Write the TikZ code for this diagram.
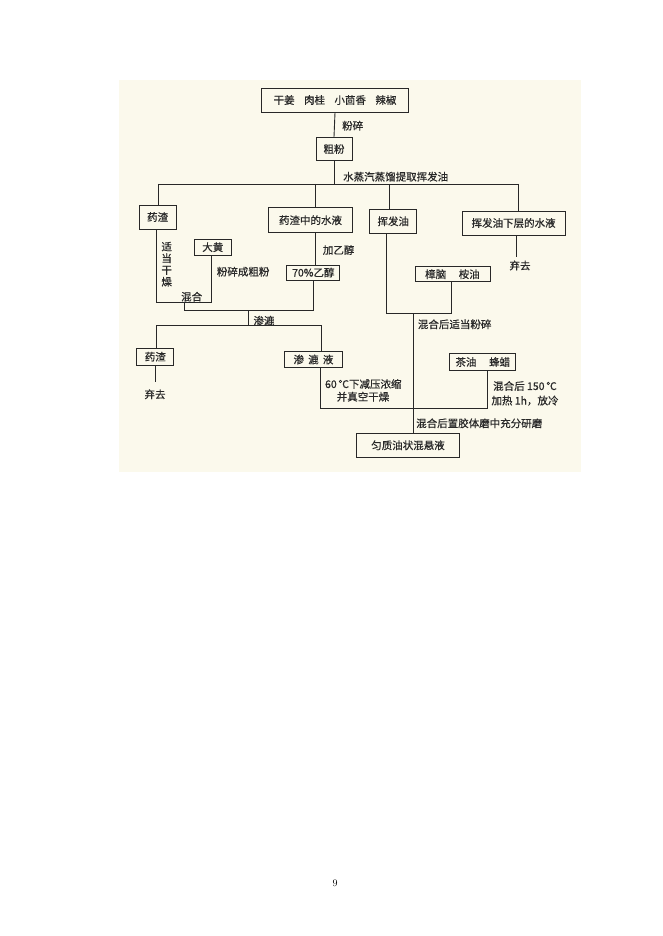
\documentclass[tikz,border=0pt]{standalone}
\usepackage{fontspec}
\newfontfamily\cjk[FakeBold=0.5]{Noto Sans CJK SC}
\definecolor{scanbg}{RGB}{251,249,236}
\definecolor{ink}{RGB}{40,40,40}
\begin{document}
\begin{tikzpicture}[x=1pt,y=-1pt,
  box/.style={draw=ink,line width=0.9pt,inner sep=0pt,minimum width=#1,minimum height=24pt,font=\cjk\fontsize{10.5}{12}\selectfont,text=ink},
  box/.default=40pt,
  lbl/.style={inner sep=0pt,font=\cjk\fontsize{10.5}{12}\selectfont,text=ink},
  ln/.style={draw=ink,line width=0.9pt}]
\useasboundingbox (0,0) rectangle (662,936);
\fill[scanbg] (119,80) rectangle (581,472);
% boxes
\node[box=147pt] (top) at (335,100) {干姜\hspace{0.9em}肉桂\hspace{0.9em}小茴香\hspace{0.9em}辣椒};
\node[box=36pt,minimum height=23.5pt] (cufen) at (334,149) {粗粉};
\node[box=37pt] (yz1) at (157.6,217) {药渣};
\node[box=84pt,minimum height=25pt] (shuiye) at (310.5,220.2) {药渣中的水液};
\node[box=47pt] (hfy) at (393.3,221.3) {挥发油};
\node[box=103pt] (xc) at (513.6,223) {挥发油下层的水液};
\node[box=37.7pt,minimum height=16pt] (dh) at (212.8,247.2) {大黄};
\node[box=53pt,minimum height=15pt] (yc) at (313.3,272.5) {70\%乙醇};
\node[box=75pt,minimum height=15pt] (zn) at (452.5,274.2) {樟脑\hspace{1.2em}桉油};
\node[box=37pt,minimum height=17pt] (yz2) at (155.3,356.7) {药渣};
\node[box=58pt,minimum height=16pt] (sl) at (313.5,359.5) {渗\hspace{0.4em}漉\hspace{0.4em}液};
\node[box=66pt,minimum height=17pt] (cy) at (482.8,362) {茶油\hspace{1.2em}蜂蜡};
\node[box=103pt] (fin) at (408,445.3) {匀质油状混悬液};
% junction coordinates
\coordinate (j1) at (334,184);
\coordinate (busL) at (158,184);
\coordinate (busR) at (518,184);
\coordinate (a1) at (156.7,302);
\coordinate (a2) at (211.7,302);
\coordinate (a3) at (184,302);
\coordinate (b1) at (184,310);
\coordinate (b2) at (313,310);
\coordinate (b3) at (248.3,310);
\coordinate (c1) at (248.3,325);
\coordinate (cL) at (156,325);
\coordinate (cR) at (321.7,325);
\coordinate (qq2) at (155.7,381.7);
\coordinate (d1) at (386.7,313.3);
\coordinate (d2) at (451,313.3);
\coordinate (d3) at (413.3,313.3);
\coordinate (e1) at (320,408.3);
\coordinate (e2) at (487.7,408.3);
\coordinate (qq1) at (516.7,256.7);
% connectors
\draw[ln] (top.south) -- (cufen.north);
\draw[ln] (cufen.south) -- (j1);
\draw[ln] (busL) -- (busR);
\draw[ln] (busL) -- (busL |- yz1.north);
\draw[ln] (315,184) -- (315,0 |- shuiye.north);
\draw[ln] (389.3,184) -- (389.3,0 |- hfy.north);
\draw[ln] (busR) -- (busR |- xc.north);
\draw[ln] (a1 |- yz1.south) -- (a1) -- (a2) -- (a2 |- dh.south);
\draw[ln] (a3) -- (b1) -- (b2) -- (b2 |- yc.south);
\draw[ln] (315,0 |- shuiye.south) -- (315,0 |- yc.north);
\draw[ln] (b3) -- (c1);
\draw[ln] (cL) -- (cR);
\draw[ln] (cL) -- (cL |- yz2.north);
\draw[ln] (cR) -- (cR |- sl.north);
\draw[ln] (qq2 |- yz2.south) -- (qq2);
\draw[ln] (d1 |- hfy.south) -- (d1) -- (d2) -- (d2 |- zn.south);
\draw[ln] (d3) -- (d3 |- fin.north);
\draw[ln] (e1 |- sl.south) -- (e1) -- (e2) -- (e2 |- cy.south);
\draw[ln] (qq1 |- xc.south) -- (qq1);
% labels
\node[lbl,anchor=west] (l1) at (342,125.7) {粉碎};
\node[lbl,anchor=west] (l2) at (343,176.7) {水蒸汽蒸馏提取挥发油};
\node[lbl,align=center,font=\cjk\fontsize{10.5}{11.7}\selectfont] (l3) at (166.7,264.2) {适\\当\\干\\燥};
\node[lbl] (l4) at (191.7,296.7) {混合};
\node[lbl,anchor=west] (l5) at (216.7,271.7) {粉碎成粗粉};
\node[lbl,anchor=west] (l6) at (322.7,250) {加乙醇};
\node[lbl,anchor=west] (l7) at (253.3,320.7) {渗漉};
\node[lbl] (l8) at (520,265.5) {弃去};
\node[lbl,anchor=west] (l9) at (417.7,324.3) {混合后适当粉碎};
\node[lbl] (l10) at (155,394.3) {弃去};
\node[lbl] (l11) at (363.3,384) {60\,℃下减压浓缩};
\node[lbl] (l12) at (363,396.7) {并真空干燥};
\node[lbl] (l13) at (525,386) {混合后 150\,℃};
\node[lbl] (l14) at (525,400.7) {加热 1h，放冷};
\node[lbl,anchor=west] (l15) at (416,423.3) {混合后置胶体磨中充分研磨};
\node[inner sep=0pt,font=\fontsize{10}{12}\selectfont] (pg) at (335,883) {9};
\end{tikzpicture}
\end{document}
